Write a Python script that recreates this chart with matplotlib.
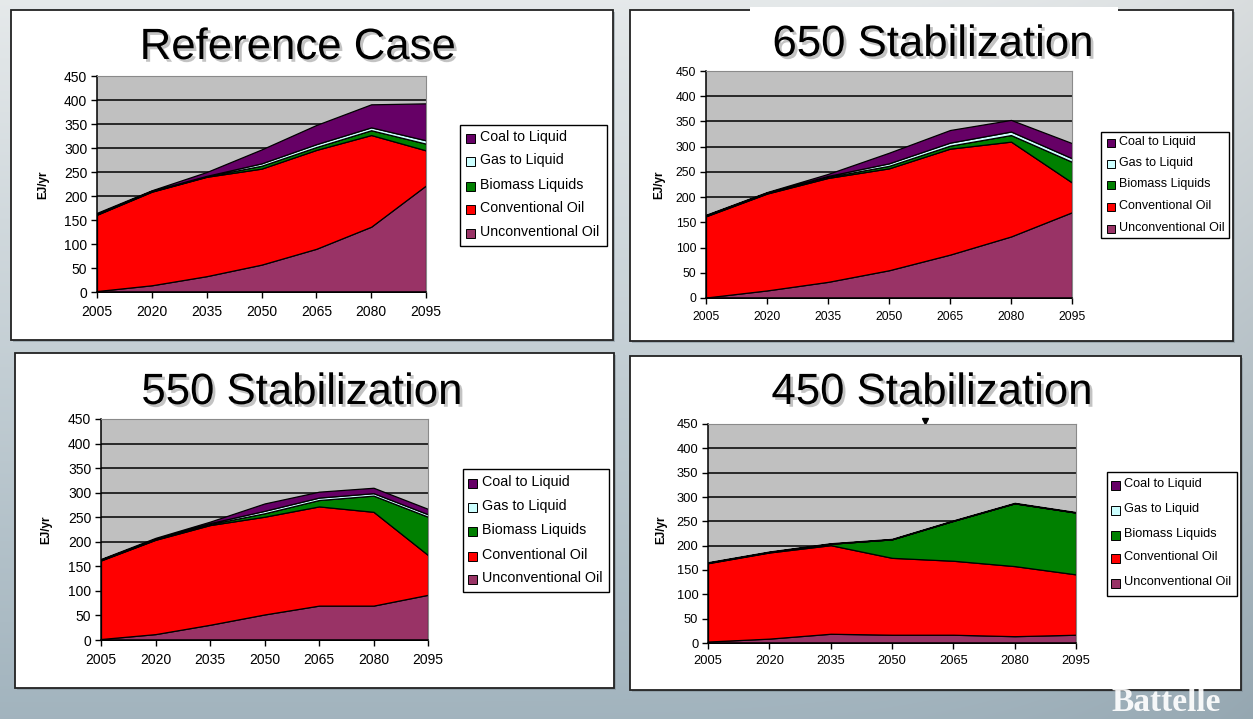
"""
Liquid fuel supply by source (EJ/yr), four scenarios:
Reference Case and 650 / 550 / 450 stabilization.

Generates: out.png
"""

import numpy as np
import matplotlib
matplotlib.use('Agg')
import matplotlib.pyplot as plt
from matplotlib.patches import Rectangle
import matplotlib.patheffects as pe

plt.rcParams['font.family'] = ['Liberation Sans', 'DejaVu Sans']

W, H = 1253, 719
OUT = 'out.png'

years = [2005, 2020, 2035, 2050, 2065, 2080, 2095]
yticks = [0, 50, 100, 150, 200, 250, 300, 350, 400, 450]

# stack order bottom -> top
series_names = ['Unconventional Oil', 'Conventional Oil', 'Biomass Liquids',
                'Gas to Liquid', 'Coal to Liquid']
series_colors = ['#993366', '#FF0000', '#008000', '#CCFFFF', '#660066']

# Reference Case
ref_unconv = [2, 14, 33, 57, 90, 136, 222]
ref_conv   = [159, 195, 207, 200, 206, 191, 73]
ref_bio    = [1, 1, 1, 6, 6, 10, 14]
ref_gas    = [1, 1, 1, 5, 6, 6, 7]
ref_coal   = [2, 1, 8, 29, 40, 48, 77]

# 650 Stabilization
s650_unconv = [1, 15, 32, 55, 86, 122, 170]
s650_conv   = [161, 192, 206, 202, 210, 188, 59]
s650_bio    = [1, 1, 2, 5, 6, 13, 41]
s650_gas    = [1, 1, 2, 5, 6, 7, 7]
s650_coal   = [1, 1, 4, 21, 25, 23, 30]

# 550 Stabilization
s550_unconv = [2, 12, 31, 52, 70, 70, 92]
s550_conv   = [160, 192, 203, 199, 202, 191, 81]
s550_bio    = [1, 1, 2, 7, 13, 33, 78]
s550_gas    = [1, 1, 2, 5, 5, 5, 5]
s550_coal   = [1, 2, 3, 15, 12, 11, 11]

# 450 Stabilization
s450_unconv = [3, 9, 19, 17, 17, 14, 17]
s450_conv   = [161, 177, 182, 158, 152, 144, 124]
s450_bio    = [1, 1, 3, 38, 82, 129, 127]
s450_gas    = [0, 0, 0, 0, 0, 0, 0]
s450_coal   = [1, 1, 1, 1, 1, 1, 1]

# layout in pixel coords (x0, y0, x1, y1), y measured from the top
PANELS = [
    dict(title='Reference Case',
         data=[ref_unconv, ref_conv, ref_bio, ref_gas, ref_coal],
         box=(11, 10, 613, 340), plot=(97, 76, 426, 292), title_xy=(298, 59),
         gap=None, ylab=(43, 185), leg=(460, 125, 607, 246),
         rows=[137, 160, 185, 208, 232], sq_x=470.5, sq=9, txt_x=480,
         leg_fs=10.2, tick_fs=10),
    dict(title='650 Stabilization',
         data=[s650_unconv, s650_conv, s650_bio, s650_gas, s650_coal],
         box=(630, 10, 1233, 341), plot=(706, 71, 1072, 298), title_xy=(933, 56),
         gap=(750, 1118), ylab=(659, 185), leg=(1101, 132, 1229, 238),
         rows=[142, 163, 184, 206, 228], sq_x=1111, sq=8, txt_x=1119,
         leg_fs=9, tick_fs=8.7),
    dict(title='550 Stabilization',
         data=[s550_unconv, s550_conv, s550_bio, s550_gas, s550_coal],
         box=(15, 353, 614, 688), plot=(101, 419, 428, 640), title_xy=(302, 404),
         gap=None, ylab=(46, 530), leg=(463, 469, 609, 592),
         rows=[482, 506, 530, 555, 578], sq_x=472.5, sq=9, txt_x=482,
         leg_fs=10.3, tick_fs=10),
    dict(title='450 Stabilization',
         data=[s450_unconv, s450_conv, s450_bio, s450_gas, s450_coal],
         box=(630, 356, 1241, 690), plot=(708, 424, 1076, 643), title_xy=(932, 404),
         gap=None, ylab=(661, 530), leg=(1107, 472, 1237, 596),
         rows=[484, 509, 534, 557, 582], sq_x=1115, sq=9, txt_x=1124,
         leg_fs=9.2, tick_fs=9.3),
]


def fbox(x0, y0, x1, y1):
    return [x0 / W, 1 - y1 / H, (x1 - x0) / W, (y1 - y0) / H]


fig = plt.figure(figsize=(W / 100, H / 100), dpi=100)

# ── background canvas (pixel coords) ────────────────────────────────────────
cv = fig.add_axes([0, 0, 1, 1], zorder=-1)
cv.set_xlim(0, W)
cv.set_ylim(H, 0)
cv.axis('off')

t = np.linspace(0, 1, H)[:, None, None]
s = np.linspace(0, 1, W)[None, :, None]
top = np.array([0.90, 0.915, 0.92])
bot = np.array([0.635, 0.705, 0.745])
grad = top + (bot - top) * t - 0.05 * s ** 6
cv.imshow(np.clip(grad, 0, 1), extent=(0, W, H, 0), aspect='auto', zorder=0)

for p in PANELS:
    x0, y0, x1, y1 = p['box']
    cv.add_patch(Rectangle((x0 + 2, y0 + 2), x1 - x0, y1 - y0, facecolor='#7d8c94',
                           edgecolor='none', alpha=0.5, zorder=1))
    cv.add_patch(Rectangle((x0, y0), x1 - x0, y1 - y0, facecolor='white',
                           edgecolor='#222222', linewidth=1.3, zorder=2))
    if p['gap']:
        cv.add_patch(Rectangle((p['gap'][0], y0 - 3), p['gap'][1] - p['gap'][0], 6,
                               facecolor='white', edgecolor='none', zorder=3))

    cv.text(p['title_xy'][0], p['title_xy'][1], p['title'], fontsize=31.5,
            ha='center', va='baseline', color='black', zorder=4,
            path_effects=[pe.withSimplePatchShadow(offset=(2, -2),
                                                   shadow_rgbFace='#888888', alpha=0.5)])
    cv.text(p['ylab'][0], p['ylab'][1], 'EJ/yr', fontsize=8.5, fontweight='bold',
            rotation=90, ha='center', va='center', zorder=4)

    # legend
    lx0, ly0, lx1, ly1 = p['leg']
    cv.add_patch(Rectangle((lx0, ly0), lx1 - lx0, ly1 - ly0, facecolor='white',
                           edgecolor='black', linewidth=1.0, zorder=4))
    for row_y, name, col in zip(p['rows'], series_names[::-1], series_colors[::-1]):
        q = p['sq']
        cv.add_patch(Rectangle((p['sq_x'] - q / 2, row_y - q / 2 + 1), q, q,
                               facecolor=col, edgecolor='black', linewidth=0.7, zorder=5))
        cv.text(p['txt_x'], row_y, name, fontsize=p['leg_fs'], ha='left',
                va='center', zorder=5)

# stray mark above the 450 chart
cv.plot([925], [420.5], marker='v', markersize=4, color='black', zorder=4)

cv.text(1166, 718, 'Battelle', fontfamily='Liberation Serif', fontsize=24,
        fontweight='bold', color='white', ha='center', va='bottom',
        alpha=0.92, zorder=4)

# ── stacked area charts ─────────────────────────────────────────────────────
x = np.arange(len(years))
for p in PANELS:
    ax = fig.add_axes(fbox(*p['plot']), zorder=1)
    ax.set_facecolor('#C0C0C0')
    ax.stackplot(x, *p['data'], colors=series_colors, edgecolor='black',
                 linewidth=0.9, zorder=2)
    for yv in yticks[1:-1]:
        ax.axhline(yv, color='black', linewidth=1.1, zorder=1)
    ax.set_xlim(0, len(years) - 1)
    ax.set_ylim(0, 450)
    ax.set_yticks(yticks)
    ax.set_xticks(x)
    ax.set_xticklabels([str(yr) for yr in years])
    ax.tick_params(axis='y', labelsize=p['tick_fs'], length=4, width=1.0, pad=3)
    ax.tick_params(axis='x', labelsize=p['tick_fs'], length=4, width=1.0, pad=5)
    for side in ('left', 'bottom'):
        ax.spines[side].set_color('black')
        ax.spines[side].set_linewidth(1.1)
    for side in ('top', 'right'):
        ax.spines[side].set_color('#8a8a8a')
        ax.spines[side].set_linewidth(0.8)

plt.savefig(OUT, dpi=100)
plt.close()
print(f"Saved: {OUT}")
